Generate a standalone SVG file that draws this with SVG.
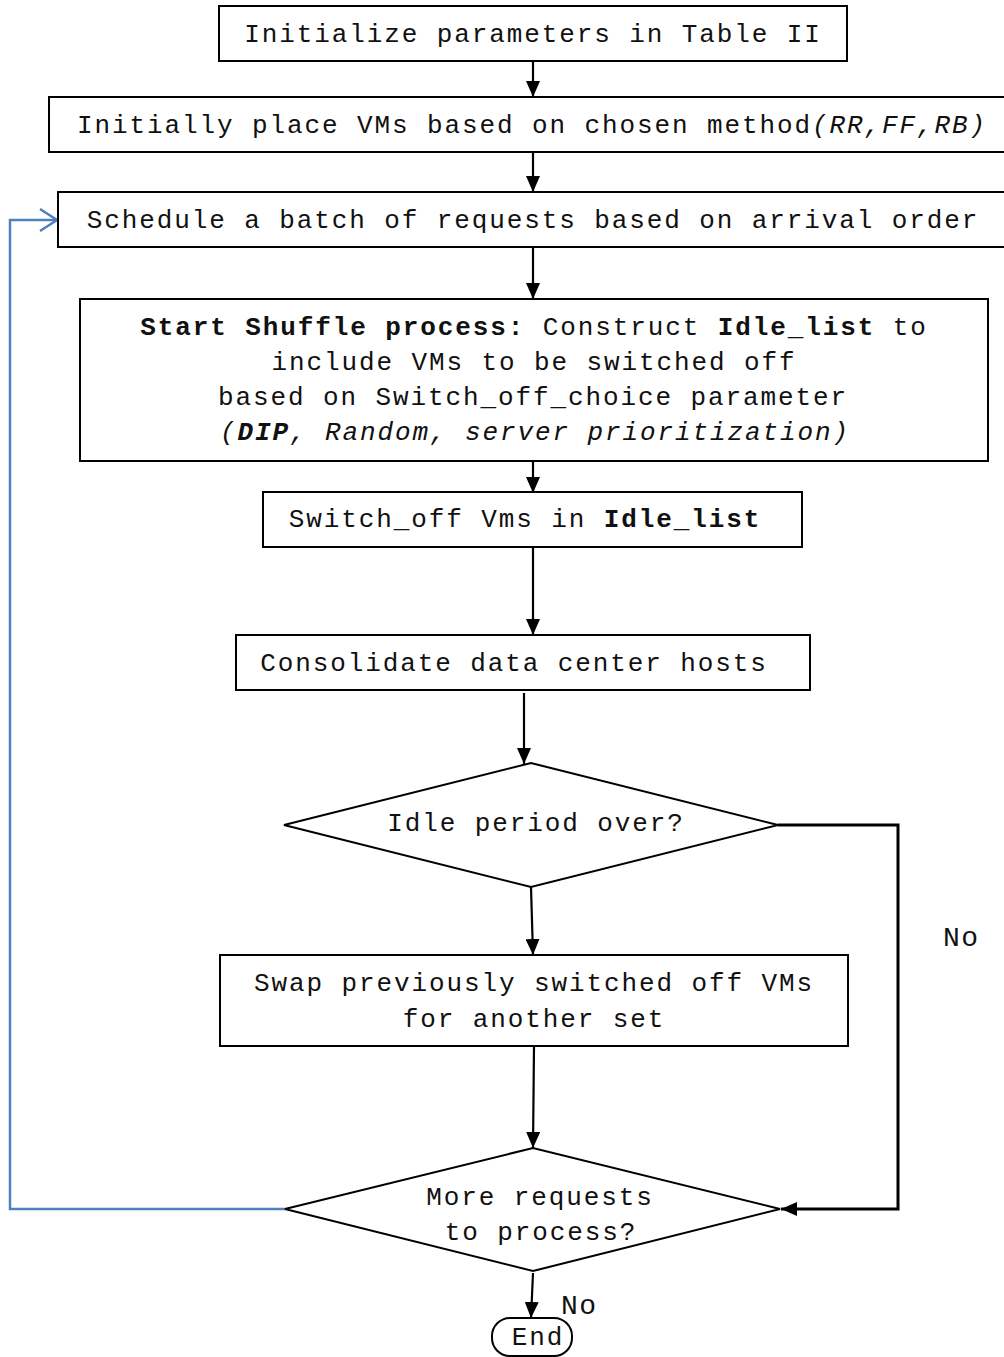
<svg xmlns="http://www.w3.org/2000/svg" width="1004" height="1357" viewBox="0 0 1004 1357">
  <style>
    .box { fill: #ffffff; stroke: #000000; stroke-width: 2; }
    .t { font-family: "Liberation Mono", "Courier New", monospace; font-size: 26px; letter-spacing: 1.9px; fill: #111111; text-anchor: middle; }
    .lbl { font-family: "Liberation Mono", "Courier New", monospace; font-size: 28px; letter-spacing: 1.5px; fill: #111111; }
    .b { font-weight: bold; }
    .i { font-style: italic; }
    .edge { fill: none; stroke: #000000; stroke-width: 2.2; }
    .loop { fill: none; stroke: #4f81bd; stroke-width: 2.5; }
  </style>
  <defs>
    <marker id="arrow" markerUnits="userSpaceOnUse" markerWidth="18" markerHeight="14" refX="16" refY="7" orient="auto">
      <path d="M0,0 L16,7 L0,14 Z" fill="#000000"/>
    </marker>
  </defs>
  <rect width="1004" height="1357" fill="#ffffff"/>

  <!-- connectors -->
  <g id="connectors">
    <line class="edge" x1="533" y1="61" x2="533" y2="97" marker-end="url(#arrow)"/>
    <line class="edge" x1="533" y1="152" x2="533" y2="192" marker-end="url(#arrow)"/>
    <line class="edge" x1="533" y1="247" x2="533" y2="299" marker-end="url(#arrow)"/>
    <line class="edge" x1="533" y1="461" x2="533" y2="493" marker-end="url(#arrow)"/>
    <line class="edge" x1="533" y1="547" x2="533" y2="635" marker-end="url(#arrow)"/>
    <line class="edge" x1="524" y1="693" x2="524" y2="764" marker-end="url(#arrow)"/>
    <line class="edge" x1="531" y1="887" x2="533" y2="955" marker-end="url(#arrow)"/>
    <line class="edge" x1="534" y1="1046" x2="533" y2="1148" marker-end="url(#arrow)"/>
    <polyline class="edge" style="stroke-width:3" points="778,825 898,825 898,1209 781,1209" marker-end="url(#arrow)"/>
    <line class="edge" x1="533" y1="1273" x2="531" y2="1318" marker-end="url(#arrow)"/>
    <polyline class="loop" points="285,1209 10,1209 10,220 57,220"/>
    <polyline class="loop" points="40,209 57,220 40,231"/>
    <text class="lbl" x="943" y="946">No</text>
    <text class="lbl" x="561" y="1314">No</text>
  </g>

  <g id="init">
    <rect class="box" x="219" y="6" width="628" height="55"/>
    <text class="t" x="533" y="42">Initialize parameters in Table II</text>
  </g>

  <g id="place">
    <rect class="box" x="49" y="97" width="970" height="55"/>
    <text class="t" x="532" y="133">Initially place VMs based on chosen method<tspan class="i">(RR,FF,RB)</tspan></text>
  </g>

  <g id="schedule">
    <rect class="box" x="58" y="192" width="960" height="55"/>
    <text class="t" x="533" y="228">Schedule a batch of requests based on arrival order</text>
  </g>

  <g id="shuffle">
    <rect class="box" x="80" y="299" width="908" height="162"/>
    <text class="t" x="534" y="335"><tspan class="b">Start Shuffle process:</tspan> Construct <tspan class="b">Idle_list</tspan> to</text>
    <text class="t" x="534" y="370">include VMs to be switched off</text>
    <text class="t" x="533" y="405">based on Switch_off_choice parameter</text>
    <text class="t i" x="535" y="440">(<tspan class="b">DIP</tspan>, Random, server prioritization)</text>
  </g>

  <g id="switch-off">
    <rect class="box" x="263" y="492" width="539" height="55"/>
    <text class="t" x="525" y="527">Switch_off Vms in <tspan class="b">Idle_list</tspan></text>
  </g>

  <g id="consolidate">
    <rect class="box" x="236" y="635" width="574" height="55"/>
    <text class="t" x="514" y="671">Consolidate data center hosts</text>
  </g>

  <g id="idle-check">
    <polygon class="box" points="284,825 531,763 778,825 531,887"/>
    <text class="t" x="536" y="831">Idle period over?</text>
  </g>

  <g id="swap">
    <rect class="box" x="220" y="955" width="628" height="91"/>
    <text class="t" x="534" y="991">Swap previously switched off VMs</text>
    <text class="t" x="534" y="1027">for another set</text>
  </g>

  <g id="more-requests">
    <polygon class="box" points="285,1209 533,1148 780,1209 533,1271"/>
    <text class="t" x="540" y="1205">More requests</text>
    <text class="t" x="541" y="1240">to process?</text>
  </g>

  <g id="end">
    <rect class="box" x="492" y="1318" width="80" height="38" rx="18" ry="18"/>
    <text class="t" x="538" y="1345">End</text>
  </g>
</svg>
